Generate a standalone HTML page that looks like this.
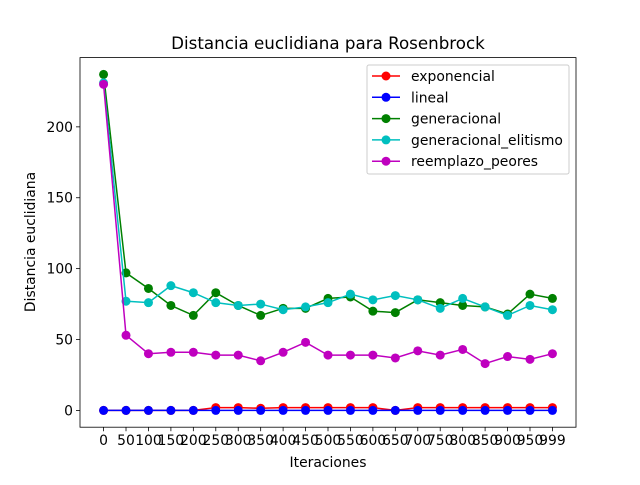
<!DOCTYPE html>
<html><head><meta charset="utf-8"><style>body{margin:0;background:#fff}svg{font-family:"DejaVu Sans","Liberation Sans",sans-serif}</style></head>
<body>
<svg id="c" width="640" height="480" xmlns="http://www.w3.org/2000/svg"></svg>
<script>
const categories=["0","50","100","150","200","250","300","350","400","450","500","550","600","650","700","750","800","850","900","950","999"];
const exponencial=[0,0,0,0,0,2,2,1.5,2,2,2,2,2,0,2,2,2,2,2,2,2];
const lineal=[0,0,0,0,0,0,0,0,0,0,0,0,0,0,0,0,0,0,0,0,0];
const generacional=[237,97,86,74,67,83,74,67,72,72,79,80,70,69,78,76,74,73,68,82,79];
const generacional_elitismo=[231,77,76,88,83,76,74,75,71,73,76,82,78,81,78,72,79,73,67,74,71];
const reemplazo_peores=[230,53,40,41,41,39,39,35,41,48,39,39,39,37,42,39,43,33,38,36,40];
const yTicks=[0,50,100,150,200];
const seriesNames=["exponencial","lineal","generacional","generacional_elitismo","reemplazo_peores"];
const seriesData=[exponencial,lineal,generacional,generacional_elitismo,reemplazo_peores];
const colors=["#ff0000","#0000ff","#008000","#00bfbf","#bf00bf"];
const svg=document.getElementById('c');const NS="http://www.w3.org/2000/svg";
const L=80,R=576,T=57.6,B=427.2;
const n=categories.length;
const all=seriesData.flat();const dmin=Math.min(...all),dmax=Math.max(...all);const pad=(dmax-dmin)*0.05;
const ymin=dmin-pad,ymax=dmax+pad;
const xs=i=>L+(i+1.05)*(R-L)/(n-1+2.1);
const ys=v=>B-(v-ymin)/(ymax-ymin)*(B-T);
function el(t,a,p){const e=document.createElementNS(NS,t);for(const k in a)e.setAttribute(k,a[k]);(p||svg).appendChild(e);return e;}
let t=el('text',{x:328,y:49,'text-anchor':'middle','font-size':16.7});t.textContent="Distancia euclidiana para Rosenbrock";

categories.forEach((c,i)=>{const x=xs(i);el('line',{x1:x,x2:x,y1:B,y2:B+4,stroke:'#000','stroke-width':0.8});
const tx=el('text',{x:x,y:B+18,'text-anchor':'middle','font-size':13.9});tx.textContent=c;
});
yTicks.forEach(v=>{const y=ys(v);el('line',{x1:L-4,x2:L,y1:y,y2:y,stroke:'#000','stroke-width':0.8});
const tx=el('text',{x:L-7,y:y+5,'text-anchor':'end','font-size':13.9});tx.textContent=v;
});
t=el('text',{x:328,y:467,'text-anchor':'middle','font-size':13.9});t.textContent="Iteraciones";

t=el('text',{x:35,y:242,'text-anchor':'middle','font-size':13.9,transform:'rotate(-90 35 242)'});t.textContent="Distancia euclidiana";

seriesData.forEach((d,s)=>{const g=el('g',{});

el('polyline',{points:d.map((v,i)=>xs(i)+','+ys(v)).join(' '),fill:'none',stroke:colors[s],'stroke-width':1.5},g);
d.forEach((v,i)=>{const c=el('circle',{cx:xs(i),cy:ys(v),r:4.5,fill:colors[s]},g);
});});
el('rect',{x:L,y:T,width:R-L,height:B-T,fill:'none',stroke:'#000','stroke-width':0.8});
const lg=el('g',{});
el('rect',{x:367,y:65,width:202,height:109,rx:2,fill:'#fff','fill-opacity':0.8,stroke:'#ccc'},lg);
seriesNames.forEach((nm,s)=>{const y=76+s*21.3;const e=el('g',{},lg);

el('line',{x1:372,x2:400,y1:y,y2:y,stroke:colors[s],'stroke-width':1.5},e);
el('circle',{cx:386,cy:y,r:4.5,fill:colors[s]},e);
const tx=el('text',{x:411,y:y+5,'font-size':13.9},e);tx.textContent=nm;});
</script>
</body></html>
